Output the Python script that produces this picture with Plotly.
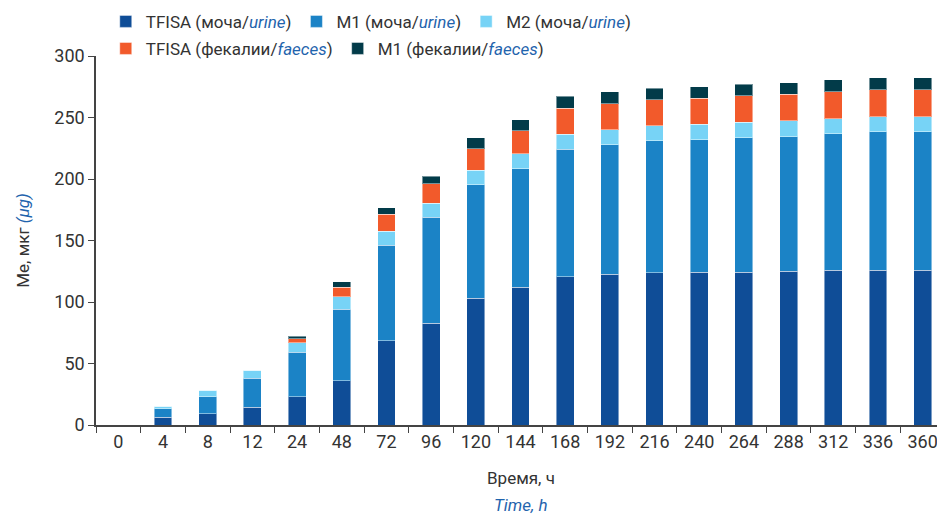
import plotly.graph_objects as go

categories = ["0", "4", "8", "12", "24", "48", "72", "96", "120", "144", "168",
              "192", "216", "240", "264", "288", "312", "336", "360"]

tfisa_urine = [0, 6.3, 9.2, 14.6, 23.0, 36.0, 68.5, 82.9, 102.9, 111.9, 120.5,
               122.4, 123.7, 124.0, 124.0, 124.9, 125.7, 125.7, 125.7]
m1_urine = [0, 6.9, 13.8, 23.6, 36.1, 58.2, 77.7, 86.1, 92.3, 96.6, 103.5,
            105.3, 107.3, 107.8, 109.4, 109.3, 110.9, 112.6, 112.6]
m2_urine = [0, 2.2, 5.4, 6.5, 7.8, 10.0, 11.4, 11.3, 12.0, 11.9, 12.4,
            12.5, 12.5, 12.7, 12.7, 13.0, 12.5, 12.5, 12.5]
tfisa_faeces = [0, 0, 0, 0, 3.2, 7.9, 13.8, 16.0, 17.6, 18.7, 21.1,
                21.1, 21.1, 21.1, 21.4, 21.7, 22.0, 21.9, 21.9]
m1_faeces = [0, 0, 0, 0, 2.2, 4.3, 5.4, 6.0, 8.9, 9.2, 9.8,
             9.5, 9.2, 9.5, 9.5, 9.5, 9.4, 9.7, 9.7]

BLUE_TXT = "#1f64ad"
FONT = "Roboto, Open Sans, sans-serif"

series = [
    ("TFISA (моча/<i><span style='color:%s'>urine</span></i>)" % BLUE_TXT, tfisa_urine, "#0f4d97", "legend"),
    ("M1 (моча/<i><span style='color:%s'>urine</span></i>)" % BLUE_TXT, m1_urine, "#1b83c6", "legend"),
    ("M2 (моча/<i><span style='color:%s'>urine</span></i>)" % BLUE_TXT, m2_urine, "#77d3f6", "legend"),
    ("TFISA (фекалии/<i><span style='color:%s'>faeces</span></i>)" % BLUE_TXT, tfisa_faeces, "#f25a2b", "legend2"),
    ("M1 (фекалии/<i><span style='color:%s'>faeces</span></i>)" % BLUE_TXT, m1_faeces, "#023b49", "legend2"),
]

fig = go.Figure()
for name, vals, color, leg in series:
    fig.add_trace(go.Bar(
        x=categories, y=vals, name=name,
        marker=dict(color=color, line=dict(color="rgba(255,255,255,0.45)", width=1)),
        legend=leg,
    ))

fig.update_layout(
    barmode="stack",
    bargap=0.6,
    width=937, height=507,
    margin=dict(l=88, r=0, t=48, b=90, autoexpand=False),
    plot_bgcolor="white",
    paper_bgcolor="white",
    font=dict(family=FONT, size=18, color="#333333"),
    legend=dict(orientation="h", x=0.0115, xanchor="left", y=1.0926, yanchor="middle",
                font=dict(size=17, color="#333333"), traceorder="normal",
                itemwidth=30, bgcolor="rgba(0,0,0,0)"),
    legend2=dict(orientation="h", x=0.0115, xanchor="left", y=1.0193, yanchor="middle",
                 font=dict(size=17, color="#333333"), traceorder="normal",
                 itemwidth=30, bgcolor="rgba(0,0,0,0)"),
    xaxis=dict(
        type="category", tickson="boundaries", ticks="outside", ticklen=6,
        tickcolor="#444444", showline=True, linecolor="#444444", linewidth=1.5,
        showgrid=False, range=[-0.5, 18.5], tickfont=dict(size=18, color="#333333"),
    ),
    yaxis=dict(
        range=[0, 300], dtick=50, ticks="outside", ticklen=6, tickcolor="#444444",
        showline=True, linecolor="#444444", linewidth=1.5, showgrid=False,
        zeroline=False, tickfont=dict(size=18, color="#333333"),
        title=dict(text="Ме, мкг <i><span style='color:%s'>(µg)</span></i>" % BLUE_TXT,
                   font=dict(size=17, color="#333333"), standoff=20),
    ),
    annotations=[
        dict(text="Время, ч", x=0.5, y=-0.1436, xref="paper", yref="paper",
             showarrow=False, xanchor="center", yanchor="middle",
             font=dict(size=17, color="#333333")),
        dict(text="<i>Time, h</i>", x=0.5, y=-0.2168, xref="paper", yref="paper",
             showarrow=False, xanchor="center", yanchor="middle",
             font=dict(size=17, color=BLUE_TXT)),
    ],
)

fig.write_html("out.html")
